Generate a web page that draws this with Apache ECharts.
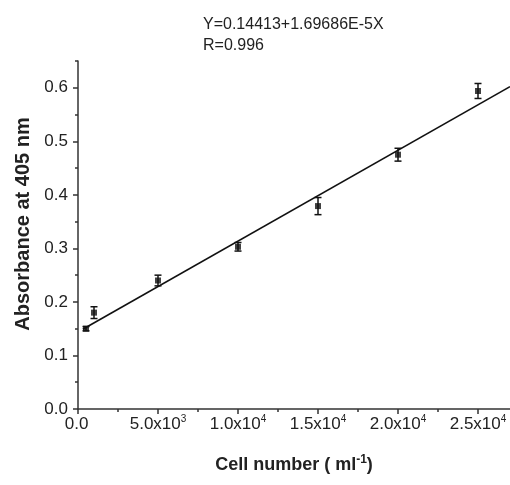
<!DOCTYPE html>
<html>
<head>
<meta charset="utf-8">
<script src="https://cdn.jsdelivr.net/npm/echarts@6/dist/echarts.min.js"></script>
<style>
  html, body { margin: 0; padding: 0; background: #fff; }
  #chart { width: 510px; height: 485px; }
</style>
</head>
<body>
<div id="chart"></div>
<script>
// cell number (ml^-1) and absorbance
const cellNumbers = [500, 1000, 5000, 10000, 15000, 20000, 25000];
const absorbance = [0.150, 0.180, 0.240, 0.303, 0.379, 0.475, 0.594];
const errors = [0.004, 0.011, 0.010, 0.008, 0.016, 0.012, 0.014];
// fitted line ends (Y=0.14413+1.69686E-5X)
const fitLine = [[300, 0.149], [27000, 0.602]];

const xMajor = [0, 5000, 10000, 15000, 20000, 25000];
const xMinor = [2500, 7500, 12500, 17500, 22500];
const xTickText = { 0: "0.0^ ", 5000: "5.0x10^3", 10000: "1.0x10^4", 15000: "1.5x10^4", 20000: "2.0x10^4", 25000: "2.5x10^4" };
const yMajor = [0, 0.1, 0.2, 0.3, 0.4, 0.5, 0.6];
const yMinor = [0.05, 0.15, 0.25, 0.35, 0.45, 0.55, 0.65];

const font = "'Liberation Sans', Arial, sans-serif";
const ink = "#222";

let myChart = echarts.init(document.getElementById("chart"));

// "5.0x10^3" -> base text plus raised exponent
function xLabel(v) {
  let t = xTickText[v];
  if (!t) return "";
  let parts = t.split("^");
  return "{b|" + parts[0] + "}{s|" + parts[1] + "}";
}

let axisLine = { show: true, lineStyle: { color: "#333", width: 1.5 } };

let option = {
  animation: false,
  title: {
    text: "Y=0.14413+1.69686E-5X\nR=0.996",
    left: 203,
    top: 14,
    padding: 0,
    textStyle: { fontFamily: font, fontSize: 16, fontWeight: "normal", color: ink, lineHeight: 21 },
  },
  grid: { left: 78, right: 0, top: 61, bottom: 76 },
  xAxis: [
    {
      type: "value",
      position: "bottom",
      min: 0,
      max: 27000,
      splitLine: { show: false },
      axisLine: axisLine,
      axisTick: { show: true, customValues: xMajor, length: 5, lineStyle: { color: "#333", width: 1.5 } },
      axisLabel: {
        customValues: xMajor,
        margin: 5,
        formatter: xLabel,
        rich: {
          b: { fontFamily: font, fontSize: 17, color: ink },
          s: { fontFamily: font, fontSize: 10, color: ink, padding: [0, 0, 10, 0] },
        },
      },
      name: "Cell number ( ml{s|-1})",
      nameLocation: "middle",
      nameGap: 45,
      nameTextStyle: {
        fontFamily: font, fontSize: 18, fontWeight: "bold", color: ink,
        rich: { s: { fontFamily: font, fontSize: 12, fontWeight: "bold", color: ink, padding: [0, 0, 10, 0] } },
      },
    },
    {
      type: "value",
      position: "bottom",
      min: 0,
      max: 27000,
      splitLine: { show: false },
      axisLine: { show: false },
      axisTick: { show: true, customValues: xMinor, length: 3, lineStyle: { color: "#333", width: 1.5 } },
      axisLabel: { show: false },
    },
  ],
  yAxis: [
    {
      type: "value",
      position: "left",
      min: 0,
      max: 0.65,
      splitLine: { show: false },
      axisLine: axisLine,
      axisTick: { show: true, customValues: yMajor, length: 5, lineStyle: { color: "#333", width: 1.5 } },
      axisLabel: {
        customValues: yMajor,
        margin: 10,
        fontFamily: font,
        fontSize: 17,
        color: ink,
        formatter: (v) => v.toFixed(1),
      },
      name: "Absorbance at 405 nm",
      nameLocation: "middle",
      nameGap: 45,
      nameTextStyle: { fontFamily: font, fontSize: 20, fontWeight: "bold", color: ink, padding: [0, 0, 0, 22] },
    },
    {
      type: "value",
      position: "left",
      min: 0,
      max: 0.65,
      splitLine: { show: false },
      axisLine: { show: false },
      axisTick: { show: true, customValues: yMinor, length: 3, lineStyle: { color: "#333", width: 1.5 } },
      axisLabel: { show: false },
    },
  ],
  series: [
    {
      type: "line",
      data: fitLine,
      symbol: "none",
      lineStyle: { color: "#111", width: 1.6 },
      z: 2,
    },
    {
      type: "custom",
      data: cellNumbers.map((x, i) => [x, absorbance[i] - errors[i], absorbance[i] + errors[i]]),
      renderItem: function (params, api) {
        let x = api.value(0);
        let lo = api.coord([x, api.value(1)]);
        let hi = api.coord([x, api.value(2)]);
        let w = 3.5;
        let style = { stroke: "#111", lineWidth: 1.5 };
        return {
          type: "group",
          children: [
            { type: "line", shape: { x1: lo[0], y1: lo[1], x2: hi[0], y2: hi[1] }, style: style },
            { type: "line", shape: { x1: lo[0] - w, y1: lo[1], x2: lo[0] + w, y2: lo[1] }, style: style },
            { type: "line", shape: { x1: hi[0] - w, y1: hi[1], x2: hi[0] + w, y2: hi[1] }, style: style },
          ],
        };
      },
      z: 3,
    },
    {
      type: "scatter",
      data: cellNumbers.map((x, i) => [x, absorbance[i]]),
      symbol: "rect",
      symbolSize: 6,
      itemStyle: { color: "#111" },
      z: 4,
    },
  ],
};
myChart.setOption(option);
</script>
</body>
</html>
